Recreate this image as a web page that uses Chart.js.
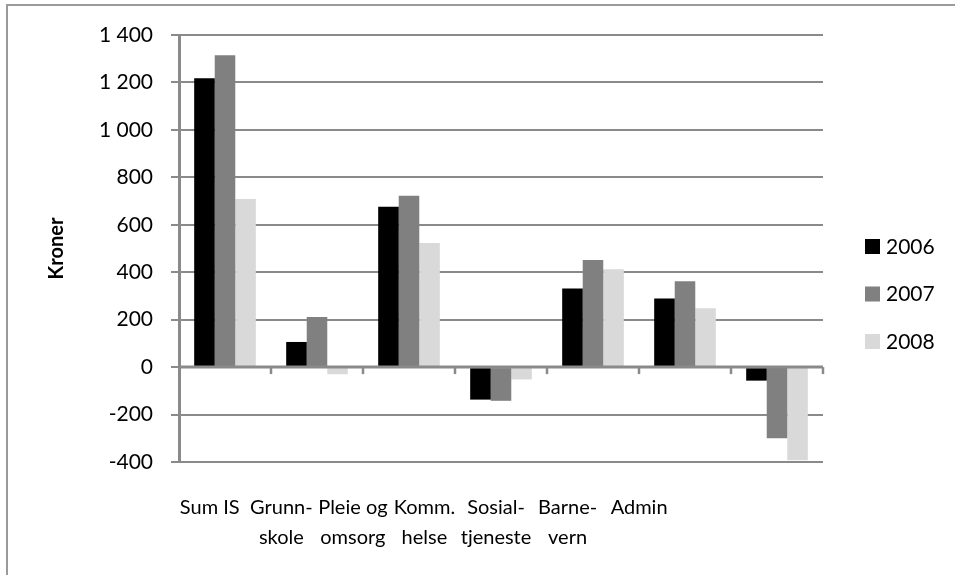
<!DOCTYPE html>
<html>
<head>
<meta charset="utf-8">
<script src="https://cdn.jsdelivr.net/npm/chart.js@4"></script>
<style>
  html, body { margin: 0; padding: 0; background: #fff; }
  #wrap { width: 955px; height: 575px; }
</style>
</head>
<body>
<div id="wrap"><canvas id="kroner-chart"></canvas></div>
<script>
const categories = [['Sum IS'], ['Grunn-', 'skole'], ['Pleie og', 'omsorg'], ['Komm.', 'helse'], ['Sosial-', 'tjeneste'], ['Barne-', 'vern'], ['Admin']];
const years = ['2006', '2007', '2008'];
const values2006 = [1218, 106, 676, -137, 331, 289, -57];
const values2007 = [1315, 211, 722, -142, 452, 362, -300];
const values2008 = [709, -30, 523, -52, 413, 248, -393];
const yTicks = { min: -400, max: 1400, step: 200 };

const colors = ['#000000', '#808080', '#d9d9d9'];
const FONT = 'Lato, "Open Sans", sans-serif';
const gray = '#8a8a8a';

const fmt = v => String(v).replace(/\B(?=(\d{3})+(?!\d))/g, ' ');

// frame, zero line ticks and legend
const extras = {
    id: 'extras',
    beforeDraw(chart) {
        const ctx = chart.ctx;
        ctx.save();
        ctx.strokeStyle = '#9a9a9a';
        ctx.lineWidth = 2;
        ctx.strokeRect(7, 5, 1000, 700);
        ctx.restore();
    },
    afterDatasetsDraw(chart) {
        const ctx = chart.ctx;
        const x = chart.scales.x, y = chart.scales.y;
        const y0 = y.getPixelForValue(0);
        const half = (x.getPixelForValue(1) - x.getPixelForValue(0)) / 2;
        ctx.save();
        ctx.strokeStyle = gray;
        ctx.lineWidth = 3;
        ctx.beginPath();
        ctx.moveTo(chart.chartArea.left, y0);
        ctx.lineTo(chart.chartArea.right, y0);
        ctx.stroke();
        ctx.lineWidth = 2.5;
        for (let i = 0; i < categories.length; i++) {
            const px = x.getPixelForValue(i) + half;
            ctx.beginPath();
            ctx.moveTo(px, y0);
            ctx.lineTo(px, y0 + 7);
            ctx.stroke();
        }
        ctx.restore();
    },
    afterDraw(chart) {
        const ctx = chart.ctx;
        ctx.save();
        ctx.font = '21px ' + FONT;
        ctx.textBaseline = 'middle';
        chart.data.datasets.forEach((ds, i) => {
            const cy = 246 + i * 47.5;
            ctx.fillStyle = ds.backgroundColor;
            ctx.fillRect(865, cy - 7, 15, 15);
            ctx.fillStyle = '#000';
            ctx.fillText(ds.label, 886, cy + 1);
        });
        ctx.restore();
    }
};

new Chart(document.getElementById('kroner-chart'), {
    type: 'bar',
    data: {
        labels: categories,
        datasets: [
            { label: years[0], data: values2006, backgroundColor: colors[0] },
            { label: years[1], data: values2007, backgroundColor: colors[1] },
            { label: years[2], data: values2008, backgroundColor: colors[2] }
        ]
    },
    options: {
        responsive: true,
        maintainAspectRatio: false,
        animation: false,
        devicePixelRatio: 1,
        datasets: { bar: { categoryPercentage: 0.67, barPercentage: 1.0 } },
        layout: { padding: { left: 0, right: 132, top: 35, bottom: 0 } },
        plugins: { legend: { display: false }, tooltip: { enabled: false } },
        scales: {
            x: { display: false, offset: true },
            x2: {
                type: 'category',
                position: 'bottom',
                labels: categories.concat(['', '']),
                offset: true,
                grid: { display: false },
                border: { display: false },
                ticks: { color: '#000', font: { family: FONT, size: 20, lineHeight: 1.5 }, padding: 23, maxRotation: 0, autoSkip: false, labelOffset: -5 },
                afterFit(scale) { scale.height = 113; }
            },
            y: {
                min: yTicks.min,
                max: yTicks.max,
                grid: {
                    color: gray,
                    lineWidth: 2,
                    tickLength: 8
                },
                border: { display: true, color: gray, width: 3 },
                ticks: {
                    stepSize: yTicks.step,
                    color: '#000',
                    padding: 18,
                    font: { family: FONT, size: 21 },
                    callback: v => fmt(v)
                },
                title: {
                    display: true,
                    text: 'Kroner',
                    color: '#000',
                    font: { family: FONT, size: 20, weight: 'bold', lineHeight: 1.2 },
                    padding: { top: 45, bottom: 0 }
                },
                afterFit(scale) { scale.width = 179; }
            }
        }
    },
    plugins: [extras]
});
</script>
</body>
</html>
